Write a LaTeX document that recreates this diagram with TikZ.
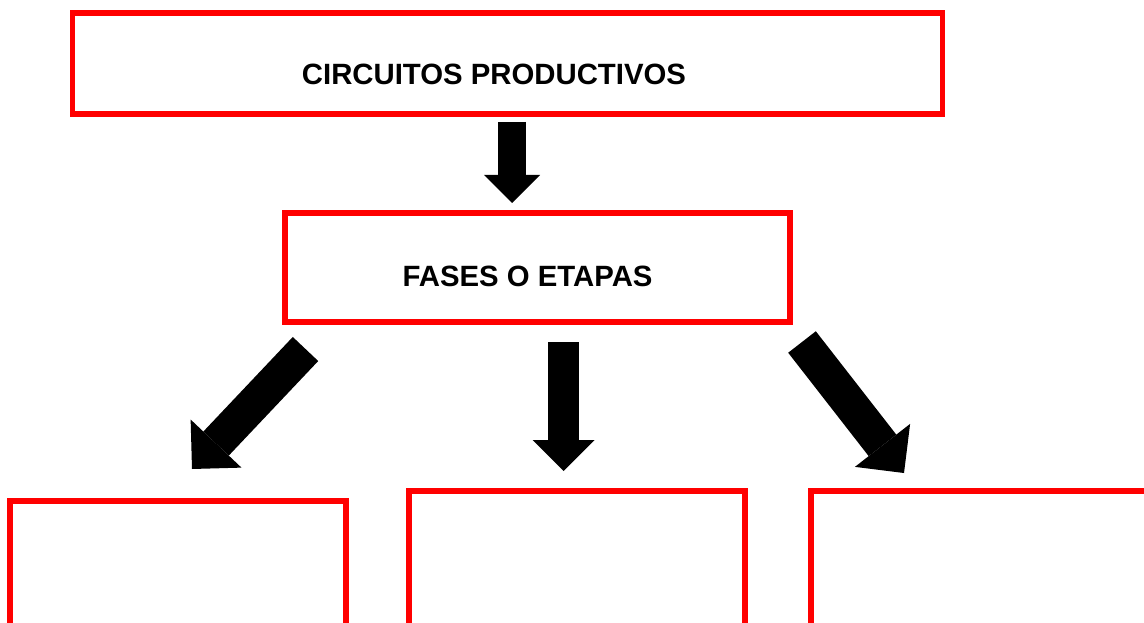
\documentclass[tikz,border=0pt]{standalone}
\usepackage{fontspec}
\setmainfont{Liberation Sans}
\usetikzlibrary{arrows.meta}
\newlength\px
\setlength\px{0.75pt}
\begin{document}
\begin{tikzpicture}[x=\px,y=-\px,
  main node/.style={rectangle,draw=red,line width=4.2pt,inner sep=0pt,outer sep=0pt,anchor=north west},
  title/.style={font=\bfseries\fontsize{22pt}{26pt}\selectfont},
  big arrow/.style={line width=#1,-{Triangle[length=0pt 1,width=0pt 2,line width=0pt]}}]
  \useasboundingbox (0,0) rectangle (1144,623);
  \clip (0,0) rectangle (1144,623);
  % boxes
  \node[main node,minimum width=870\px,minimum height=101\px] (1) at (72.5,13) {};
  \node[main node,minimum width=505\px,minimum height=109\px] (2) at (285,213) {};
  \node[main node,minimum width=336\px,minimum height=200\px] (3) at (10,501) {};
  \node[main node,minimum width=336\px,minimum height=200\px] (4) at (409,491) {};
  \node[main node,minimum width=400\px,minimum height=200\px] (5) at (811,491) {};
  \node[title] (t1) at (494,74) {CIRCUITOS PRODUCTIVOS};
  \node[title] (t2) at (527.5,276) {FASES O ETAPAS};
  % arrows
  \coordinate (a1) at (512,122);  \coordinate (b1) at (512,203);
  \coordinate (a2) at (305.5,349); \coordinate (b2) at (192,469);
  \coordinate (a3) at (563.5,342); \coordinate (b3) at (563.5,471);
  \coordinate (a4) at (802,342);  \coordinate (b4) at (904,473);
  \draw[big arrow=28\px] (a1) -- (b1);
  \draw[big arrow=35\px] (a2) -- (b2);
  \draw[big arrow=31\px] (a3) -- (b3);
  \draw[big arrow=35\px] (a4) -- (b4);
\end{tikzpicture}
\end{document}
